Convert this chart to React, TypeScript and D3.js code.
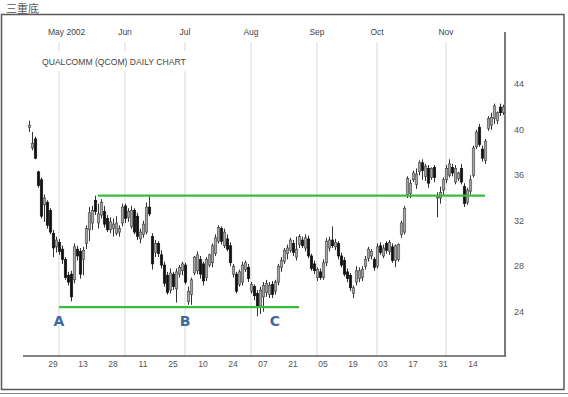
import React from 'react';
import * as d3 from 'd3';

// Trading-day index of the first candle (0 = Apr 29 2002)
const FIRST_INDEX = -8;

const opens = [40.2, 38.4, 39.2, 36.3, 35.6, 33.4, 33.6, 32.9, 30.9, 29.7, 30.1, 29.5, 28.6, 27.2, 27.3, 26.8, 29.5, 29.3, 28.6, 30.0, 31.2, 31.8, 33.8, 31.8, 32.5, 32.8, 32.2, 31.2, 31.3, 30.9, 31.0, 31.8, 33.3, 32.3, 31.5, 32.9, 32.4, 30.4, 30.8, 31.0, 33.2, 30.6, 29.2, 30.0, 29.0, 28.1, 27.2, 25.9, 27.3, 26.0, 27.3, 27.6, 28.1, 24.9, 25.5, 27.4, 27.6, 28.6, 28.2, 27.0, 28.1, 28.3, 29.1, 30.2, 31.3, 29.8, 30.4, 29.8, 27.3, 27.3, 26.4, 26.6, 27.7, 27.9, 25.8, 26.2, 25.6, 24.5, 25.3, 25.7, 25.5, 26.4, 25.8, 26.6, 27.9, 28.4, 29.1, 29.4, 30.0, 28.8, 29.9, 30.3, 29.6, 30.4, 28.9, 28.2, 27.0, 27.5, 27.0, 28.3, 29.6, 30.3, 29.7, 30.0, 28.9, 28.5, 27.5, 27.2, 25.6, 26.6, 26.9, 27.0, 28.0, 28.7, 28.9, 28.6, 28.0, 29.8, 28.9, 30.0, 29.3, 29.7, 28.5, 28.6, 30.8, 31.0, 34.3, 34.4, 35.6, 35.2, 36.3, 37.1, 35.9, 36.6, 35.8, 36.7, 34.0, 34.0, 34.7, 35.6, 36.0, 36.7, 35.4, 35.7, 36.6, 35.0, 33.6, 34.6, 36.0, 38.5, 40.2, 38.3, 37.3, 40.1, 40.4, 41.0, 40.8, 42.0, 41.5];
const highs = [40.8, 39.8, 39.4, 36.4, 35.8, 34.3, 33.8, 33.1, 31.2, 30.6, 30.4, 29.8, 28.8, 27.5, 27.6, 30.0, 29.8, 29.6, 29.7, 31.6, 33.2, 33.3, 34.2, 33.5, 33.9, 33.3, 32.5, 32.3, 32.2, 32.4, 31.6, 33.5, 33.5, 33.1, 33.3, 33.1, 32.7, 31.3, 32.0, 33.6, 34.3, 30.9, 30.3, 30.2, 29.4, 28.4, 27.5, 27.8, 27.5, 27.8, 28.1, 28.4, 28.3, 26.2, 27.0, 28.9, 29.3, 28.9, 28.4, 28.8, 29.1, 30.0, 30.8, 31.6, 31.5, 31.3, 30.8, 30.1, 28.2, 27.5, 27.7, 28.4, 28.5, 28.2, 26.6, 26.4, 25.9, 26.2, 26.6, 26.8, 26.6, 26.7, 26.8, 28.2, 28.8, 29.6, 29.9, 30.5, 30.3, 30.6, 30.8, 30.6, 30.8, 30.7, 29.1, 28.5, 27.9, 27.8, 28.6, 30.5, 30.6, 31.5, 30.4, 30.2, 29.2, 28.8, 27.8, 27.4, 26.3, 28.0, 27.9, 28.0, 28.9, 29.7, 29.5, 28.8, 30.0, 30.1, 29.9, 30.2, 30.3, 30.0, 29.9, 30.0, 32.0, 33.3, 35.9, 35.6, 36.4, 36.6, 37.3, 37.4, 37.0, 36.9, 36.7, 36.9, 34.5, 35.0, 35.8, 36.9, 37.4, 37.0, 36.9, 36.3, 37.0, 35.3, 34.9, 36.0, 38.6, 40.0, 40.5, 38.6, 39.2, 41.2, 41.5, 42.3, 41.6, 42.3, 42.2];
const lows = [39.8, 38.2, 37.4, 34.9, 32.2, 31.9, 31.3, 30.8, 28.8, 29.2, 29.0, 28.2, 26.8, 26.3, 24.9, 26.5, 28.5, 26.9, 27.2, 29.5, 30.2, 31.2, 32.5, 31.3, 32.2, 31.4, 31.0, 30.9, 30.6, 30.7, 30.6, 31.5, 31.8, 31.9, 31.3, 30.8, 30.3, 30.0, 30.5, 30.8, 32.4, 27.7, 28.8, 28.8, 27.8, 26.2, 25.5, 25.6, 25.9, 24.8, 27.0, 27.2, 26.4, 24.6, 24.6, 27.2, 27.3, 26.9, 26.3, 26.7, 27.9, 27.9, 28.9, 30.0, 29.9, 29.6, 29.3, 28.0, 27.0, 25.6, 26.2, 26.3, 27.5, 26.6, 25.6, 25.0, 23.6, 23.8, 24.0, 25.3, 25.2, 25.2, 25.5, 26.3, 27.5, 28.2, 28.6, 29.2, 28.9, 28.5, 29.6, 29.6, 29.3, 28.7, 27.6, 27.3, 26.7, 26.8, 26.8, 28.0, 29.3, 29.6, 29.4, 28.6, 27.9, 27.1, 26.6, 25.8, 25.2, 26.3, 26.6, 26.7, 27.7, 28.4, 28.6, 27.6, 27.8, 29.0, 28.7, 29.1, 29.0, 28.3, 27.9, 28.4, 30.5, 30.8, 34.0, 34.0, 35.4, 34.8, 36.0, 35.6, 35.5, 34.9, 35.6, 35.4, 32.3, 33.5, 34.2, 35.3, 35.8, 35.9, 35.2, 35.5, 35.2, 33.2, 33.4, 34.3, 35.8, 38.3, 38.5, 37.2, 37.0, 39.9, 40.0, 40.5, 40.5, 41.2, 41.3];
const closes = [40.4, 38.8, 37.5, 35.1, 32.4, 34.0, 31.6, 31.0, 29.6, 30.3, 29.3, 28.6, 27.0, 26.6, 25.3, 29.7, 28.9, 27.3, 29.4, 31.3, 32.7, 32.9, 32.8, 32.6, 33.6, 31.7, 31.2, 31.9, 31.7, 31.8, 31.3, 33.2, 32.2, 32.8, 32.9, 31.0, 30.6, 31.0, 31.7, 33.2, 32.6, 28.2, 30.0, 29.1, 28.1, 26.5, 25.7, 27.4, 26.2, 27.5, 27.9, 28.2, 26.6, 25.8, 26.8, 28.8, 29.0, 27.3, 26.7, 28.6, 29.0, 29.8, 30.5, 31.4, 30.2, 31.0, 29.5, 28.3, 28.0, 25.8, 27.5, 28.1, 28.3, 26.9, 26.4, 25.4, 24.4, 25.9, 26.3, 26.5, 26.3, 25.5, 26.6, 28.0, 28.5, 29.4, 29.6, 30.3, 29.2, 29.5, 30.6, 29.8, 30.5, 28.9, 27.8, 27.6, 27.7, 27.0, 28.3, 30.2, 30.3, 29.8, 30.1, 28.9, 28.1, 27.3, 26.9, 26.1, 26.1, 27.6, 27.6, 27.7, 28.6, 29.5, 29.3, 27.9, 29.7, 29.2, 29.6, 29.4, 30.1, 28.5, 29.8, 29.9, 31.8, 33.1, 35.7, 35.3, 36.2, 36.1, 37.1, 36.4, 36.8, 35.3, 36.6, 35.8, 34.1, 34.5, 35.6, 36.6, 37.0, 36.2, 36.6, 36.2, 35.4, 33.5, 34.7, 35.6, 38.4, 39.8, 38.7, 37.5, 39.0, 41.0, 41.1, 42.1, 41.5, 41.5, 42.0];

// axis labels
const priceTicks = [24, 28, 32, 36, 40, 44];
const dayTickIndex = [0, 10, 20, 30, 40, 50, 60, 70, 80, 90, 100, 110, 120, 130, 140];
const dayTickLabels = ['29', '13', '28', '11', '25', '10', '24', '07', '21', '05', '19', '03', '17', '31', '14'];
const monthIndex = [2, 24, 44, 66, 88, 108, 131];
const monthLabels = ['May', 'Jun', 'Jul', 'Aug', 'Sep', 'Oct', 'Nov'];

// support / resistance lines and pattern points
const resistance = { price: 34.2, from: 15, to: 144 };
const support = { price: 24.4, from: 2, to: 82 };
const bottoms = [
  { label: 'A', index: 2 },
  { label: 'B', index: 44 },
  { label: 'C', index: 74 },
];

const FONT = '"Liberation Sans", Arial, sans-serif';

export default function App() {
  const width = 568;
  const height = 397;
  const plot = { left: 23, right: 505, top: 32, bottom: 356 };

  const x = d3.scaleLinear().domain([-10, 150.67]).range([plot.left, plot.right]);
  const y = d3.scaleLinear().domain([20.1, 48.6]).range([plot.bottom, plot.top]);

  const candles = opens.map((o, i) => ({
    idx: FIRST_INDEX + i,
    o,
    h: highs[i],
    l: lows[i],
    c: closes[i],
  }));

  const bodyW = 2.5;

  return (
    <svg
      width={width}
      height={height}
      style={{ position: 'absolute', left: 0, top: 0, background: '#fff' }}
    >
      <rect x={0} y={0} width={width} height={height} fill="#fff" />

      {/* header + frame */}
      <text x={6} y={13} fontFamily='"Noto Sans CJK SC", sans-serif' fontSize={11} fill="#555">
        三重底
      </text>
      <rect x={1.5} y={14.5} width={562.5} height={375} fill="none" stroke="#5a5a5a" strokeWidth={1.5} />
      <line x1={0} x2={568} y1={393.5} y2={393.5} stroke="#888" strokeWidth={1} />

      {/* month gridlines */}
      {monthIndex.map((m, i) => (
        <line key={'g' + i} x1={x(m)} x2={x(m)} y1={42} y2={plot.bottom} stroke="#d9d9d9" strokeWidth={1} />
      ))}

      {/* month labels */}
      {monthLabels.map((m, i) => (
        <text
          key={'m' + i}
          x={i === 0 ? x(monthIndex[i]) - 11 : x(monthIndex[i])}
          y={35}
          textAnchor={i === 0 ? 'start' : 'middle'}
          fontFamily={FONT}
          fontSize={8.5}
          fill="#444"
        >
          {i === 0 ? m + ' 2002' : m}
        </text>
      ))}

      {/* chart title over gridlines */}
      <rect x={40} y={51} width={168} height={20} fill="#fff" />
      <text x={42} y={65} fontFamily={FONT} fontSize={8.6} fill="#444">
        QUALCOMM (QCOM) DAILY CHART
      </text>

      {/* axes */}
      <line x1={plot.left} x2={plot.right + 1} y1={plot.bottom} y2={plot.bottom} stroke="#5a5a5a" strokeWidth={1.6} />
      <line x1={plot.right} x2={plot.right} y1={plot.top} y2={plot.bottom} stroke="#5a5a5a" strokeWidth={1.6} />

      {priceTicks.map((p) => (
        <text key={'p' + p} x={514} y={y(p) + 3} fontFamily={FONT} fontSize={9} fill="#555">
          {p}
        </text>
      ))}

      {dayTickIndex.map((d, i) => (
        <text key={'d' + i} x={x(d)} y={367} textAnchor="middle" fontFamily={FONT} fontSize={8.5} fill="#555">
          {dayTickLabels[i]}
        </text>
      ))}

      {/* candles */}
      {candles.map((d) => {
        const cx = Math.round(x(d.idx)) + 0.5;
        const up = d.c >= d.o;
        const top = y(Math.max(d.o, d.c));
        const bot = y(Math.min(d.o, d.c));
        return (
          <g key={'c' + d.idx}>
            <line x1={cx} x2={cx} y1={y(d.h)} y2={y(d.l)} stroke="#333" strokeWidth={1} />
            <rect
              x={cx - bodyW / 2}
              y={top}
              width={bodyW}
              height={Math.max(1, bot - top)}
              fill={up ? '#a4a4a4' : '#111'}
              stroke={up ? '#444' : '#111'}
              strokeWidth={0.6}
            />
          </g>
        );
      })}

      {/* resistance / support */}
      <line
        x1={x(resistance.from)}
        x2={x(resistance.to)}
        y1={y(resistance.price)}
        y2={y(resistance.price)}
        stroke="#3dbb3d"
        strokeWidth={2.2}
      />
      <line
        x1={x(support.from)}
        x2={x(support.to)}
        y1={y(support.price)}
        y2={y(support.price)}
        stroke="#3dbb3d"
        strokeWidth={2.2}
      />

      {bottoms.map((b) => (
        <text
          key={b.label}
          x={x(b.index)}
          y={326}
          textAnchor="middle"
          fontFamily='"DejaVu Sans", sans-serif'
          fontWeight="bold"
          fontSize={14}
          fill="#3d6a9e"
        >
          {b.label}
        </text>
      ))}
    </svg>
  );
}
